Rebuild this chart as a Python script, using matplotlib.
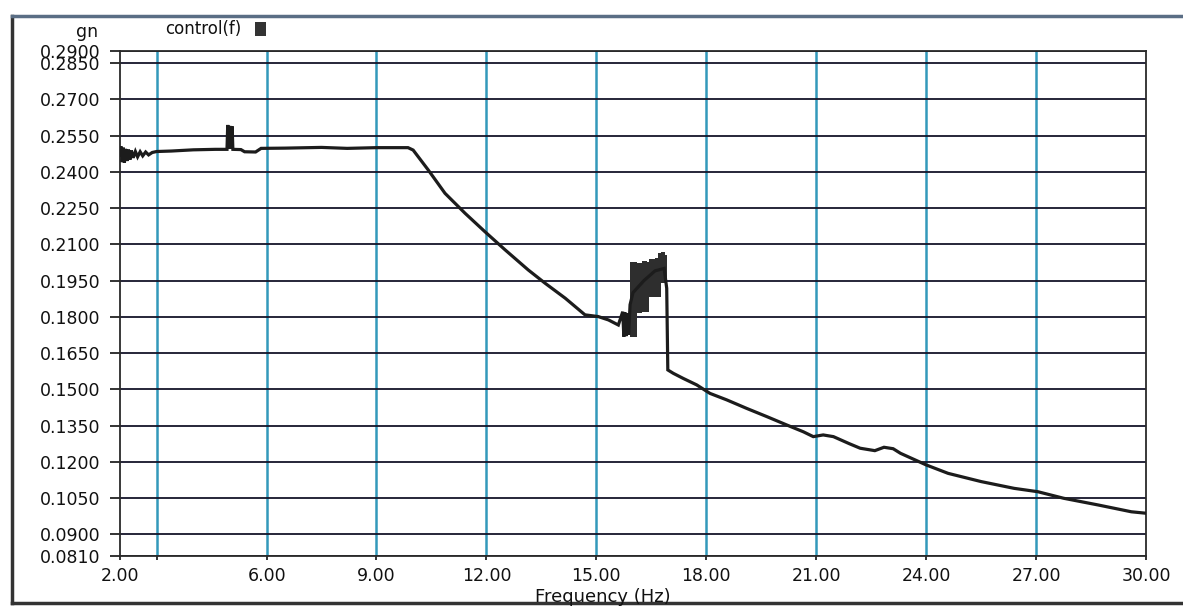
import matplotlib
matplotlib.use("Agg")
import matplotlib.pyplot as plt
from matplotlib.lines import Line2D
from matplotlib.patches import Rectangle

# trace (Hz, gn)
freq = [2.00, 2.03, 2.06, 2.09, 2.12, 2.15, 2.19, 2.23, 2.27, 2.31, 2.36, 2.42, 2.48, 2.55,
        2.62, 2.70, 2.78, 2.88, 3.00, 3.40, 4.00, 4.60, 4.92, 4.94, 4.97, 5.00, 5.03, 5.06,
        5.08, 5.30, 5.40, 5.70, 5.85, 6.50, 7.50, 8.20, 9.00, 9.50, 9.86, 10.00, 10.41, 10.87,
        11.42, 11.96, 12.51, 13.14, 13.60, 14.15, 14.69, 15.05, 15.33, 15.60, 15.72, 15.75,
        15.78, 15.81, 15.85, 15.88, 15.92, 16.00, 16.30, 16.60, 16.85, 16.92, 16.95, 17.10,
        17.37, 17.74, 18.10, 18.56, 19.10, 19.65, 20.20, 20.65, 20.92, 21.19, 21.47, 21.90,
        22.20, 22.60, 22.85, 23.10, 23.30, 24.00, 24.60, 25.50, 26.40, 27.05, 27.75, 28.70,
        29.60, 30.00]
gn = [0.2470, 0.2505, 0.2440, 0.2500, 0.2438, 0.2495, 0.2445, 0.2492, 0.2450, 0.2488, 0.2458,
      0.2484, 0.2462, 0.2483, 0.2466, 0.2482, 0.2470, 0.2480, 0.2484, 0.2486, 0.2491, 0.2493,
      0.2493, 0.2594, 0.2495, 0.2590, 0.2495, 0.2588, 0.2493, 0.2492, 0.2483, 0.2482, 0.2497,
      0.2498, 0.2501, 0.2497, 0.2500, 0.2500, 0.2500, 0.2490, 0.2408, 0.2311, 0.2228, 0.2152,
      0.2077, 0.1994, 0.1939, 0.1877, 0.1808, 0.1801, 0.1787, 0.1766, 0.1821, 0.1718, 0.1818,
      0.1720, 0.1815, 0.1725, 0.1850, 0.1900, 0.1950, 0.1990, 0.2000, 0.1918, 0.1580, 0.1566,
      0.1545, 0.1518, 0.1483, 0.1456, 0.1421, 0.1387, 0.1352, 0.1324, 0.1304, 0.1311, 0.1304,
      0.1275, 0.1256, 0.1246, 0.1260, 0.1254, 0.1235, 0.1187, 0.1152, 0.1118, 0.1090, 0.1076,
      0.1049, 0.1021, 0.0993, 0.0987]

# scattered block around 16-17 Hz (upper / lower envelope)
band_f = [15.92, 16.08, 16.12, 16.24, 16.37, 16.44, 16.60, 16.69, 16.76, 16.87, 16.93]
band_hi = [0.2028, 0.2025, 0.2021, 0.2032, 0.2028, 0.2038, 0.2042, 0.2063, 0.2070, 0.2056, 0.1990]
band_lo = [0.1718, 0.1718, 0.1815, 0.1821, 0.1821, 0.1883, 0.1883, 0.1883, 0.1939, 0.1925, 0.1918]

xticks = [2, 3, 6, 9, 12, 15, 18, 21, 24, 27, 30]
xlabels = ["2.00", "", "6.00", "9.00", "12.00", "15.00", "18.00", "21.00", "24.00", "27.00", "30.00"]
yticks = [0.081, 0.090, 0.105, 0.120, 0.135, 0.150, 0.165, 0.180, 0.195, 0.210, 0.225,
          0.240, 0.255, 0.270, 0.285, 0.290]

W, H = 1183, 607
fig = plt.figure(figsize=(W / 100, H / 100), dpi=100)
fig.patch.set_facecolor("white")
ax = fig.add_axes([120 / W, 1 - 556 / H, (1146 - 120) / W, (556 - 51) / H])

ax.set_xlim(2, 30)
ax.set_ylim(0.081, 0.290)
ax.set_xticks(xticks)
ax.set_xticklabels(xlabels)
ax.set_yticks(yticks)
ax.set_yticklabels(["%.4f" % v for v in yticks])

ax.tick_params(axis="y", direction="out", length=7, width=1.2, pad=7, labelsize=12.5, colors="#111")
ax.tick_params(axis="x", direction="out", length=3, width=1.2, pad=5, labelsize=12.5, colors="#111")

ax.set_axisbelow(True)
ax.xaxis.grid(True, color="#3399bb", lw=1.8)
ax.yaxis.grid(True, color="#15152a", lw=1.3)
gx = ax.get_xgridlines()
gx[0].set_visible(False)
gx[-1].set_visible(False)

for s in ax.spines.values():
    s.set_color("#2a2a2a")
    s.set_linewidth(1.3)

ax.fill_between(band_f, band_lo, band_hi, step="post", color="#2e2e2e", lw=0, zorder=3)
ax.plot(freq, gn, color="#1c1c1c", lw=2.3, zorder=4, solid_joinstyle="miter")

fig.text(603 / W, 1 - 597 / H, "Frequency (Hz)", ha="center", va="center", fontsize=13, color="#111")
fig.text(98 / W, 1 - 32 / H, "gn", ha="right", va="center", fontsize=12.5, color="#111")
fig.text(165 / W, 1 - 29 / H, "control(f)", ha="left", va="center", fontsize=12, color="#111")
fig.add_artist(Rectangle((255 / W, 1 - 36 / H), 11 / W, 14 / H, transform=fig.transFigure,
                         color="#333333", lw=0))

# window border
fig.add_artist(Line2D([12 / W, 12 / W], [1 - 16 / H, 1 - 603 / H], transform=fig.transFigure,
                      color="#333333", lw=2.5))
fig.add_artist(Line2D([12 / W, 1], [1 - 16 / H, 1 - 16 / H], transform=fig.transFigure,
                      color="#5a6e85", lw=2.5))
fig.add_artist(Line2D([12 / W, 1], [1 - 603 / H, 1 - 603 / H], transform=fig.transFigure,
                      color="#333333", lw=2.5))

fig.savefig("out.png", dpi=100)
